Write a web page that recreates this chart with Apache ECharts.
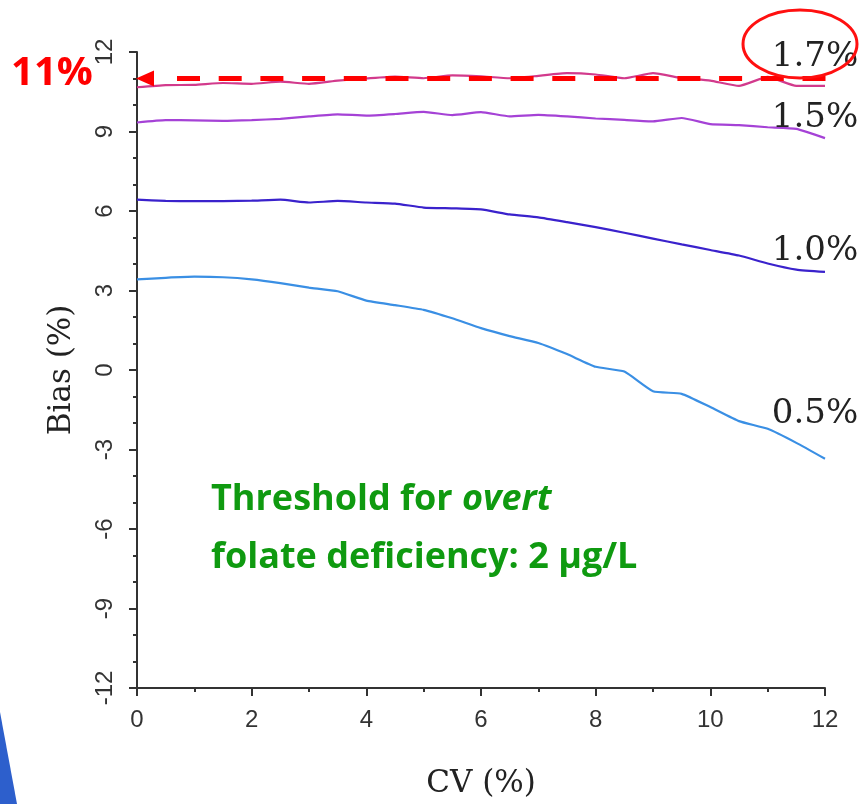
<!DOCTYPE html>
<html><head><meta charset="utf-8">
<script src="https://cdn.jsdelivr.net/npm/echarts@6/dist/echarts.min.js"></script>
<style>html,body{margin:0;padding:0;background:#fff}#c{width:859px;height:804px}</style>
</head><body><div id="c"></div>
<script>
// CV (%) sample positions
const cv = [0,0.5,1,1.5,2,2.5,3,3.5,4,4.5,5,5.5,6,6.5,7,7.5,8,8.5,9,9.5,10,10.5,11,11.5,12];
// Bias (%) for each analytical bias level
const bias05 = [3.42,3.48,3.52,3.50,3.42,3.28,3.11,2.97,2.62,2.45,2.27,1.95,1.58,1.28,1.02,0.60,0.12,-0.06,-0.80,-0.90,-1.40,-1.93,-2.22,-2.75,-3.35];
const bias10 = [6.43,6.38,6.37,6.37,6.39,6.43,6.32,6.38,6.32,6.28,6.13,6.10,6.06,5.87,5.76,5.58,5.39,5.18,4.96,4.74,4.53,4.32,4.02,3.79,3.70];
const bias15 = [9.34,9.43,9.42,9.40,9.43,9.48,9.57,9.65,9.60,9.66,9.74,9.62,9.73,9.57,9.63,9.57,9.49,9.44,9.38,9.51,9.28,9.24,9.16,9.10,8.75];
const bias17 = [10.67,10.75,10.76,10.83,10.80,10.88,10.80,10.92,11.00,11.07,11.01,11.12,11.08,11.01,11.10,11.20,11.15,11.01,11.20,11.02,10.92,10.72,11.06,10.72,10.72];
const seriesNames = ['0.5%','1.0%','1.5%','1.7%'];
const thresholdBias = 11;
const thresholdLabel = '11%';

const chart = echarts.init(document.getElementById('c'), null, {renderer:'canvas'});
const serif = 'DejaVu Serif';
function pairs(arr){ return cv.map((x,i)=>[x,arr[i]]); }
function mk(name, data, color, off){
  return {
    name, type:'line', data: pairs(data), symbol:'none', smooth:0.15,
    lineStyle:{color, width:2.2}, z:3,
    endLabel:{show:true, formatter:name, fontFamily:serif, fontSize:34, color:'#222',
      align:'center', verticalAlign:'middle', offset:off}
  };
}
chart.setOption({
  animation:false,
  backgroundColor:'#fff',
  grid:{left:137, right:34, top:52, bottom:114, containLabel:false},
  xAxis:{type:'value', min:0, max:12, interval:2,
    name:'CV (%)', nameLocation:'middle', nameGap:80,
    nameTextStyle:{fontFamily:serif, fontSize:31, color:'#222'},
    axisLine:{show:true, onZero:false, lineStyle:{color:'#333', width:2}},
    axisTick:{show:true, length:8, lineStyle:{color:'#333', width:2}},
    minorTick:{show:true, splitNumber:2, length:4, lineStyle:{color:'#333', width:2}},
    axisLabel:{fontFamily:'Liberation Sans', fontSize:24, color:'#333', margin:20},
    splitLine:{show:false}},
  yAxis:{type:'value', min:-12, max:12, interval:3,
    name:'Bias (%)', nameLocation:'middle', nameGap:60,
    nameTextStyle:{fontFamily:serif, fontSize:31, color:'#222'},
    axisLine:{show:true, onZero:false, lineStyle:{color:'#333', width:2}},
    axisTick:{show:true, length:8, lineStyle:{color:'#333', width:2}},
    minorTick:{show:true, splitNumber:3, length:4, lineStyle:{color:'#333', width:2}},
    axisLabel:{fontFamily:'Liberation Sans', fontSize:24, color:'#333', margin:20, rotate:90},
    splitLine:{show:false}},
  series:[
    mk(seriesNames[0], bias05, '#3a8fe4', [-18,-45]),
    mk(seriesNames[1], bias10, '#3a22cc', [-18,-21]),
    mk(seriesNames[2], bias15, '#a542d6', [-18,-20]),
    mk(seriesNames[3], bias17, '#d23a8c', [-18,-29])
  ]
});

const p0 = chart.convertToPixel({gridIndex:0}, [0, thresholdBias]);
const y11 = p0[1];
chart.setOption({
  graphic:[
    {type:'polygon', shape:{points:[[0,712],[17,804],[0,804]]}, style:{fill:'#2d5fcc'}, silent:true},
    {type:'line', shape:{x1:177, y1:y11, x2:832, y2:y11},
      style:{stroke:'#ff0000', lineWidth:5, lineDash:[23,18.7]}, z:10},
    {type:'polygon', shape:{points:[[p0[0]-1,y11],[p0[0]+17,y11-8],[p0[0]+17,y11+8]]},
      style:{fill:'#ff0000'}, z:10},
    {type:'text', x:52, y:y11-5, style:{text:thresholdLabel, fill:'#ff0000',
      font:'bold 40px "Open Sans"', align:'center', verticalAlign:'middle'}, z:10},
    {type:'ellipse', shape:{cx:800, cy:44, rx:57, ry:34},
      style:{fill:'none', stroke:'#ff1010', lineWidth:3}, z:10},
    {type:'text', x:211, y:529, z:10, style:{
      text:'{b|Threshold for }{i|overt}\n{b|folate deficiency: 2 μg/L}',
      verticalAlign:'middle', lineHeight:58,
      rich:{
        b:{fontFamily:'Open Sans', fontWeight:'bold', fontSize:36, fill:'#0f9a10', lineHeight:58},
        i:{fontFamily:'Open Sans', fontWeight:'bold', fontStyle:'italic', fontSize:36, fill:'#0f9a10', lineHeight:58}
      }}}
  ]
});
</script></body></html>
